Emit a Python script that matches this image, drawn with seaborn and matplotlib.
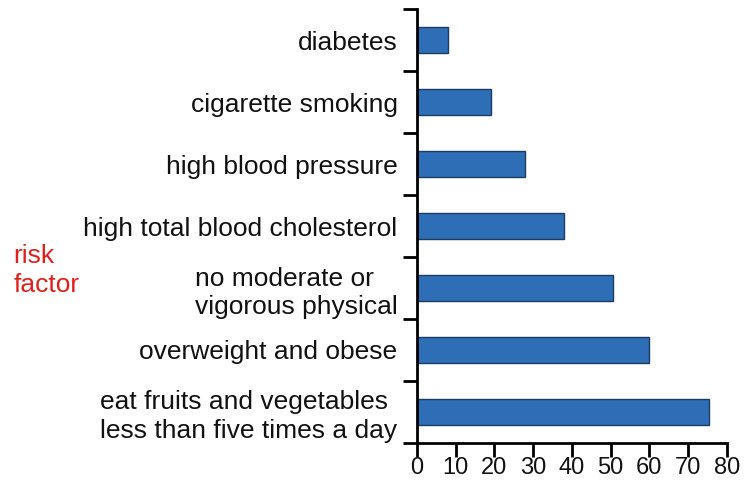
import matplotlib
matplotlib.use("Agg")
import matplotlib.pyplot as plt
import seaborn as sns
import numpy as np
import pandas as pd

categories = [
    "diabetes",
    "cigarette smoking",
    "high blood pressure",
    "high total blood cholesterol",
    "no moderate or\nvigorous physical",
    "overweight and obese",
    "eat fruits and vegetables\nless than five times a day",
]
values = [8, 19, 28, 38, 50.5, 60, 75.5]
x_ticks = [0, 10, 20, 30, 40, 50, 60, 70, 80]

sns.set_theme(style="white")
plt.rcParams["font.family"] = ["Liberation Sans", "DejaVu Sans"]

df = pd.DataFrame({"factor": categories, "value": values})

fig = plt.figure(figsize=(7.44, 4.83), dpi=100)
ax = fig.add_axes([0.5605, 0.083, 0.4165, 0.898])

sns.barplot(data=df, x="value", y="factor", orient="h", color="#2e6eb6",
            saturation=1, width=0.42, edgecolor="#1c3d63", linewidth=1, ax=ax)

ax.set_xlim(0, 80)
ax.set_ylim(len(categories) - 0.5, -0.5)
ax.set_xticks(x_ticks)
ax.set_xticklabels([str(t) for t in x_ticks], fontsize=17)

# boundary ticks (major) without labels, labels on minor ticks at centers
ax.set_yticks(np.arange(-0.5, len(categories), 1.0))
ax.set_yticklabels([])
ax.set_yticks(np.arange(len(categories)), minor=True)
ax.set_yticklabels(categories, minor=True, fontsize=19, color="#111111",
                   multialignment="left", linespacing=1.25)
ax.tick_params(axis="y", which="major", direction="out", length=10, width=2,
               color="black", left=True)
ax.tick_params(axis="y", which="minor", length=0, pad=14)
ax.tick_params(axis="x", which="major", direction="out", length=10, width=2,
               color="black", bottom=True, pad=0.5, labelcolor="#111111")

ax.set_xlabel("")
ax.set_ylabel("")
for s in ["top", "right"]:
    ax.spines[s].set_visible(False)
for s in ["left", "bottom"]:
    ax.spines[s].set_visible(True)
    ax.spines[s].set_color("black")
    ax.spines[s].set_linewidth(2)

fig.text(0.018, 0.44, "risk\nfactor", color="#e0201b", fontsize=19,
         ha="left", va="center", linespacing=1.3)

fig.savefig("out.png", dpi=100, facecolor="white")
